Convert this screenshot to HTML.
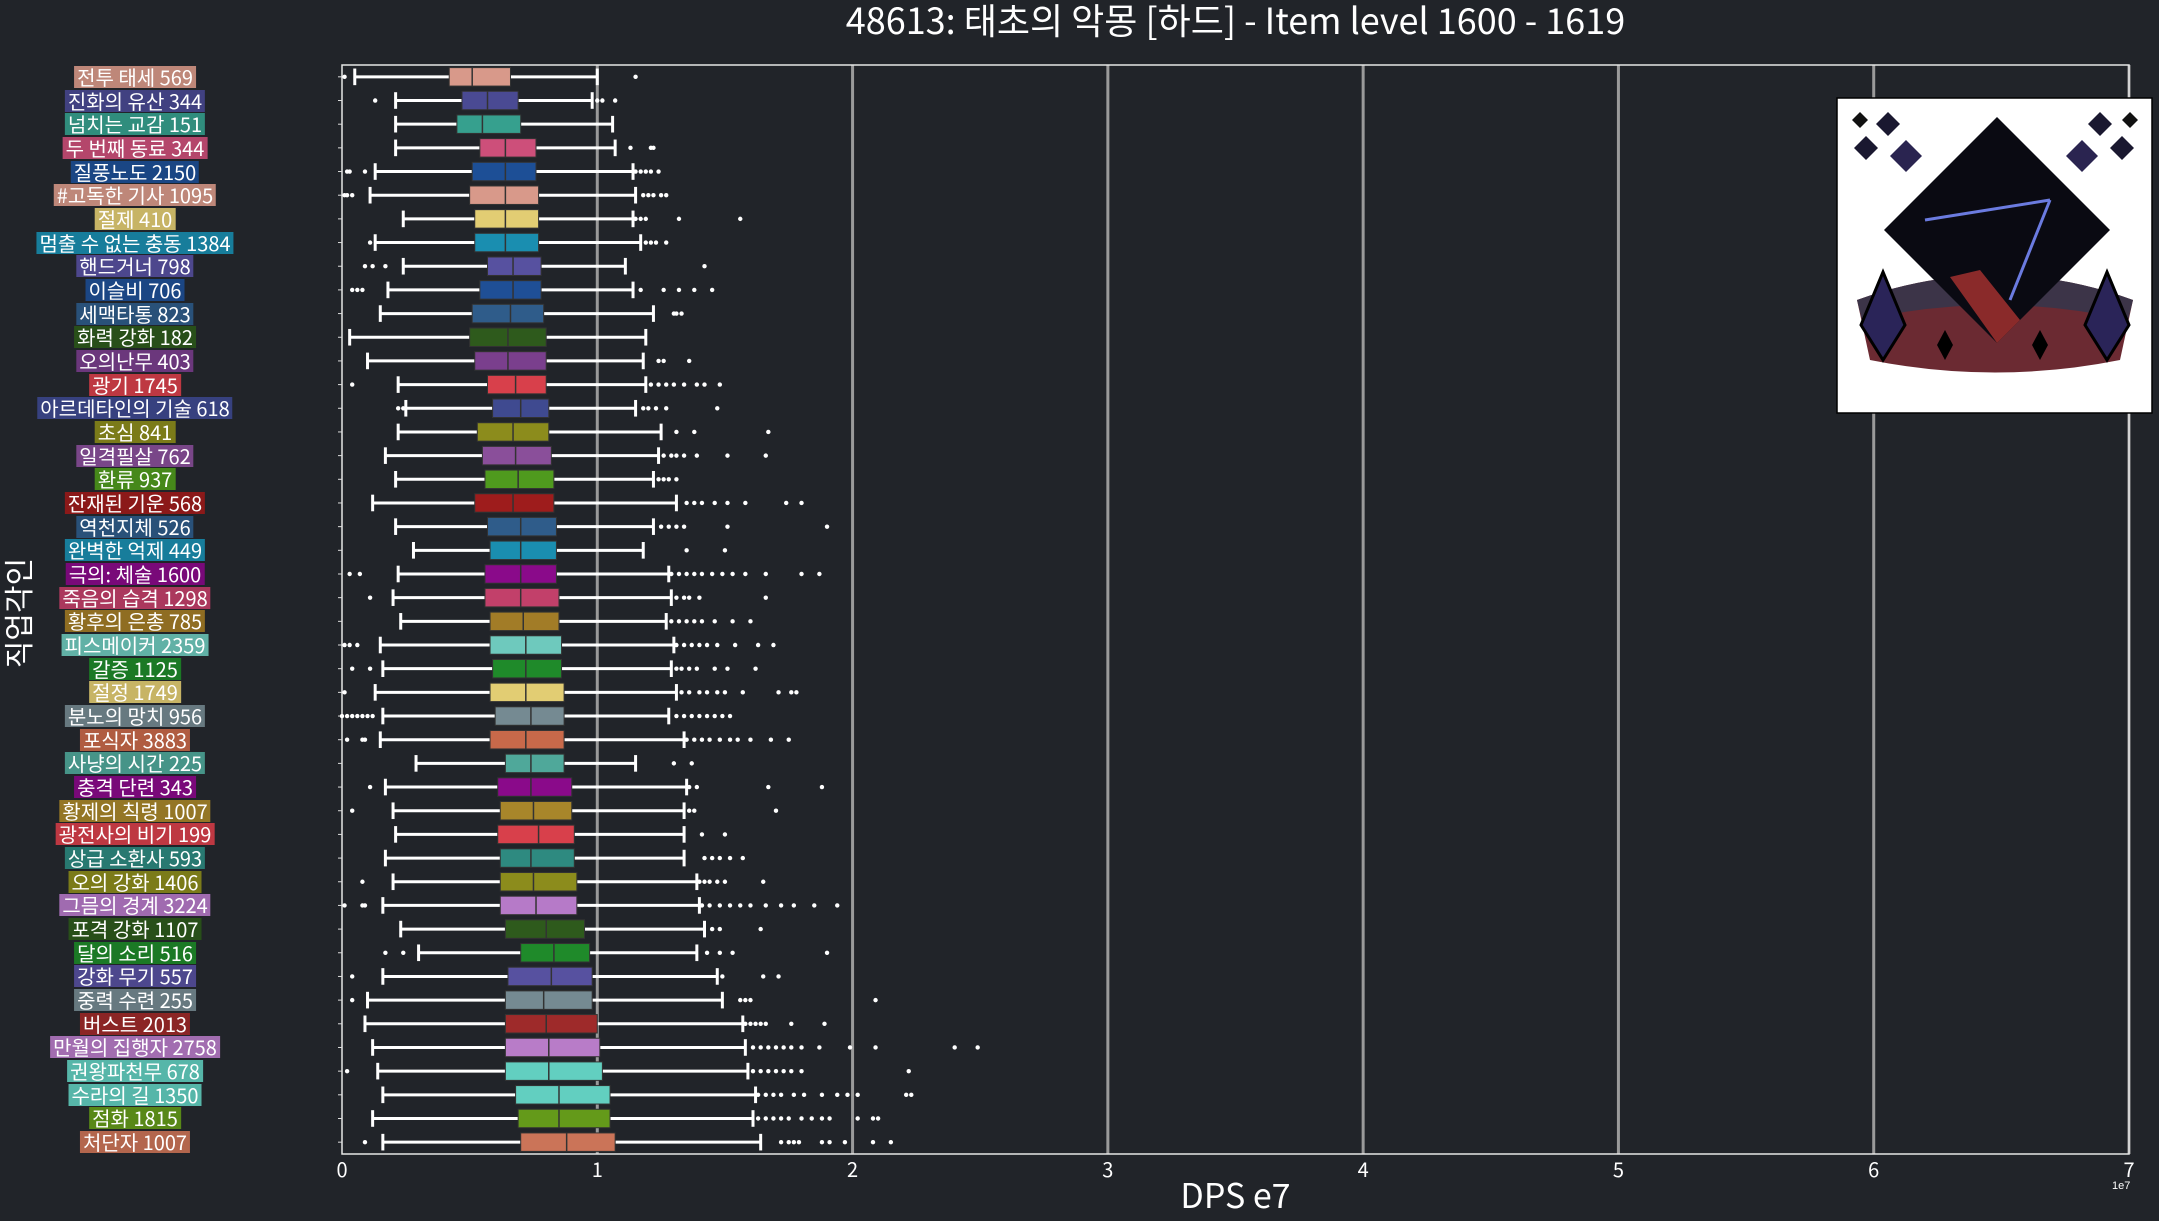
<!DOCTYPE html>
<html><head><meta charset="utf-8">
<style>
html,body{margin:0;padding:0;background:#212429;}
#wrap{position:relative;width:2159px;height:1221px;background:#212429;overflow:hidden;font-family:"Liberation Sans","Noto Sans CJK KR",sans-serif;}
.lab{position:absolute;color:#fff;font-size:20px;line-height:22px;padding:0 3px;white-space:nowrap;transform:translate(-50%,-50%);font-family:"Noto Sans CJK KR","Liberation Sans",sans-serif;}
</style></head>
<body>
<div id="wrap">
<svg id="svg" width="2159" height="1221" style="position:absolute;left:0;top:0"></svg>
</div>
<script>
const categories=["전투 태세 569","진화의 유산 344","넘치는 교감 151","두 번째 동료 344","질풍노도 2150","#고독한 기사 1095","절제 410","멈출 수 없는 충동 1384","핸드거너 798","이슬비 706","세맥타통 823","화력 강화 182","오의난무 403","광기 1745","아르데타인의 기술 618","초심 841","일격필살 762","환류 937","잔재된 기운 568","역천지체 526","완벽한 억제 449","극의: 체술 1600","죽음의 습격 1298","황후의 은총 785","피스메이커 2359","갈증 1125","절정 1749","분노의 망치 956","포식자 3883","사냥의 시간 225","충격 단련 343","황제의 칙령 1007","광전사의 비기 199","상급 소환사 593","오의 강화 1406","그믐의 경계 3224","포격 강화 1107","달의 소리 516","강화 무기 557","중력 수련 255","버스트 2013","만월의 집행자 2758","권왕파천무 678","수라의 길 1350","점화 1815","처단자 1007"];
const whiskerLow=[0.05,0.21,0.21,0.21,0.13,0.11,0.24,0.13,0.24,0.18,0.15,0.03,0.10,0.22,0.25,0.22,0.17,0.21,0.12,0.21,0.28,0.22,0.20,0.23,0.15,0.16,0.13,0.16,0.15,0.29,0.17,0.20,0.21,0.17,0.20,0.16,0.23,0.30,0.16,0.10,0.09,0.12,0.14,0.16,0.12,0.16];
const q1=[0.42,0.47,0.45,0.54,0.51,0.50,0.52,0.52,0.57,0.54,0.51,0.50,0.52,0.57,0.59,0.53,0.55,0.56,0.52,0.57,0.58,0.56,0.56,0.58,0.58,0.59,0.58,0.60,0.58,0.64,0.61,0.62,0.61,0.62,0.62,0.62,0.64,0.70,0.65,0.64,0.64,0.64,0.64,0.68,0.69,0.70];
const medians=[0.51,0.57,0.55,0.64,0.64,0.64,0.64,0.64,0.67,0.67,0.66,0.65,0.65,0.68,0.70,0.67,0.68,0.69,0.67,0.70,0.70,0.70,0.70,0.71,0.72,0.72,0.72,0.74,0.72,0.74,0.74,0.75,0.77,0.74,0.75,0.76,0.80,0.83,0.82,0.79,0.80,0.81,0.81,0.85,0.85,0.88];
const q3=[0.66,0.69,0.70,0.76,0.76,0.77,0.77,0.77,0.78,0.78,0.79,0.80,0.80,0.80,0.81,0.81,0.82,0.83,0.83,0.84,0.84,0.84,0.85,0.85,0.86,0.86,0.87,0.87,0.87,0.87,0.90,0.90,0.91,0.91,0.92,0.92,0.95,0.97,0.98,0.98,1.00,1.01,1.02,1.05,1.05,1.07];
const whiskerHigh=[1.00,0.98,1.06,1.07,1.14,1.15,1.14,1.17,1.11,1.14,1.22,1.19,1.18,1.19,1.15,1.25,1.24,1.22,1.31,1.22,1.18,1.28,1.29,1.27,1.30,1.29,1.31,1.28,1.34,1.15,1.35,1.34,1.34,1.34,1.39,1.40,1.42,1.39,1.47,1.49,1.57,1.58,1.59,1.62,1.61,1.64];
const outliers=[[0.01,1.15],[0.13,1.00,1.02,1.07],[],[1.13,1.21,1.22],[0.02,0.03,0.09,1.15,1.17,1.19,1.21,1.24],[0.01,0.02,0.04,1.18,1.20,1.22,1.25,1.27],[1.15,1.17,1.19,1.32,1.56],[0.11,1.19,1.21,1.23,1.27],[0.09,0.12,0.17,1.42],[0.04,0.06,0.08,1.17,1.26,1.32,1.38,1.45],[1.30,1.31,1.33],[],[1.24,1.26,1.36],[0.04,1.21,1.24,1.27,1.30,1.34,1.39,1.42,1.48],[0.22,0.24,1.18,1.20,1.23,1.27,1.47],[1.31,1.38,1.67],[1.26,1.29,1.31,1.34,1.39,1.51,1.66],[1.24,1.26,1.28,1.31],[1.35,1.38,1.41,1.46,1.51,1.58,1.74,1.80],[1.25,1.28,1.31,1.34,1.51,1.90],[1.35,1.50],[0.03,0.07,1.29,1.32,1.35,1.38,1.41,1.45,1.49,1.53,1.58,1.66,1.80,1.87],[0.11,1.31,1.34,1.36,1.40,1.66],[1.29,1.32,1.35,1.38,1.41,1.46,1.53,1.60],[0.01,0.03,0.06,1.31,1.34,1.37,1.40,1.43,1.47,1.54,1.63,1.69],[0.04,0.11,1.31,1.33,1.36,1.39,1.46,1.51,1.62],[0.01,1.33,1.36,1.40,1.43,1.47,1.50,1.57,1.71,1.76,1.78],[0.0,0.02,0.04,0.06,0.08,0.1,0.12,1.31,1.34,1.37,1.40,1.43,1.46,1.49,1.52],[0.02,0.08,0.09,1.35,1.38,1.41,1.44,1.48,1.52,1.55,1.60,1.68,1.75],[1.30,1.37],[0.11,1.36,1.39,1.67,1.88],[0.04,1.36,1.38,1.70],[1.41,1.50],[1.42,1.45,1.48,1.52,1.57],[0.08,1.40,1.42,1.44,1.47,1.50,1.65],[0.01,0.08,0.09,1.41,1.44,1.48,1.52,1.56,1.60,1.66,1.72,1.77,1.85,1.94],[1.45,1.48,1.64],[0.17,0.24,1.43,1.48,1.53,1.90],[0.04,1.49,1.65,1.71],[0.04,1.56,1.58,1.60,2.09],[1.58,1.60,1.62,1.64,1.66,1.76,1.89],[1.61,1.64,1.67,1.70,1.73,1.76,1.80,1.87,1.99,2.09,2.40,2.49],[0.02,1.61,1.64,1.67,1.70,1.73,1.76,1.80,2.22],[1.63,1.66,1.69,1.72,1.77,1.81,1.88,1.94,1.98,2.02,2.21,2.23],[1.63,1.66,1.69,1.72,1.75,1.80,1.84,1.88,1.91,2.02,2.08,2.10],[0.09,1.72,1.75,1.77,1.79,1.88,1.91,1.97,2.08,2.15]];
const colors=["#d8998a","#4a4a93","#36a08e","#cd4f7a","#1d4f96","#d8998a","#e2cd73","#1a8eb0","#5751a0","#1f4f96","#2f5c8a","#2e5a1c","#7a3f8d","#d8404b","#3f4a90","#8c8c1c","#8a4f9a","#4f9a1e","#9e1c1c","#2f5c8a","#1a8eb0","#8a0a8a","#c2406a","#a27c27","#6ec9bd","#1f8a2a","#e2cd73","#758a92","#c8694a","#4fa89a","#8a0a8a","#a8862a","#d8404b","#2e8a80","#8c8c1c","#b67ac8","#2e5a1c","#1f8a2a","#5751a0","#758a92","#9e2a2a","#b87cc8","#62cfc0","#62cfc0","#649a1a","#cb7458"];
const xTicks=[0,1,2,3,4,5,6,7];

const L=342,R=2129,T=65,B=1154,XMAX=7;
const NS="http://www.w3.org/2000/svg";
const svg=document.getElementById('svg');
const wrap=document.getElementById('wrap');
function xs(v){return L+v/XMAX*(R-L);}
const band=(B-T)/categories.length;
function yc(i){return T+(i+0.5)*band;}
function mk(tag,attrs){const e=document.createElementNS(NS,tag);for(const k in attrs)e.setAttribute(k,attrs[k]);svg.appendChild(e);return e;}
function darken(h,f){const n=parseInt(h.slice(1),16);const r=Math.round(((n>>16)&255)*f),g=Math.round(((n>>8)&255)*f),b=Math.round((n&255)*f);return `rgb(${r},${g},${b})`;}

let t=mk('text',{x:(L+R)/2,y:34,fill:'#fff','font-size':36,'text-anchor':'middle','font-family':'"Noto Sans CJK KR","Liberation Sans",sans-serif'});
t.textContent='48613: 태초의 악몽 [하드] - Item level 1600 - 1619';



xTicks.forEach(v=>{
  if(v>0){const g=mk('line',{x1:xs(v),x2:xs(v),y1:T,y2:B,stroke:'#9a9a9a','stroke-width':3});
  
  }
  const tl=mk('text',{x:xs(v),y:1177,fill:'#fff','font-size':20,'text-anchor':'middle','font-family':'"Noto Sans CJK KR","Liberation Sans",sans-serif'});
  tl.textContent=v;
  
  
});
const fr=mk('rect',{x:L,y:T,width:R-L,height:B-T,fill:'none',stroke:'#e6e6e6','stroke-width':1.5});



const bh=band*0.78;
categories.forEach((c,i)=>{
  const y=yc(i);
  const tk=mk('line',{x1:L-4,x2:L,y1:y,y2:y,stroke:'#ddd','stroke-width':1});
  
  
  const w1=mk('line',{x1:xs(whiskerLow[i]),x2:xs(q1[i]),y1:y,y2:y,stroke:'#fff','stroke-width':3});
  
  
  const w2=mk('line',{x1:xs(q3[i]),x2:xs(whiskerHigh[i]),y1:y,y2:y,stroke:'#fff','stroke-width':3});
  
  
  [whiskerLow[i],whiskerHigh[i]].forEach(v=>{
    const cp=mk('line',{x1:xs(v),x2:xs(v),y1:y-bh*0.45,y2:y+bh*0.45,stroke:'#fff','stroke-width':3});
    
    
  });
  const bx=mk('rect',{x:xs(q1[i]),y:y-bh/2,width:xs(q3[i])-xs(q1[i]),height:bh,fill:colors[i],stroke:'#333','stroke-width':1});
  
  
  const md=mk('line',{x1:xs(medians[i]),x2:xs(medians[i]),y1:y-bh/2,y2:y+bh/2,stroke:'#333','stroke-width':1.5});
  
  
  outliers[i].forEach(v=>{
    const o=mk('circle',{cx:xs(v),cy:y,r:2.2,fill:'#fff'});
    
    
  });
  const lb=document.createElement('div');
  lb.className='lab';
  lb.style.left='135px';lb.style.top=y+'px';
  lb.style.background=darken(colors[i],0.88);
  lb.textContent=c;
  
  
  wrap.appendChild(lb);
});

let xl=mk('text',{x:(L+R)/2,y:1208,fill:'#fff','font-size':34,'text-anchor':'middle','font-family':'"Noto Sans CJK KR","Liberation Sans",sans-serif'});
xl.textContent='DPS e7';


let ex=mk('text',{x:2112,y:1189,fill:'#fff','font-size':11,'font-family':'"Liberation Sans",sans-serif'});
ex.textContent='1e7';


let yl=mk('text',{x:30,y:613,fill:'#fff','font-size':30,'text-anchor':'middle',transform:'rotate(-90 30 613)','font-family':'"Noto Sans CJK KR","Liberation Sans",sans-serif'});
yl.textContent='직업각인';



const g=document.createElementNS(NS,'g');


g.innerHTML=`<rect x="1837" y="98" width="315" height="315" fill="#fff" stroke="#000" stroke-width="1.5"/>
<path d="M1857,300 Q1995,250 2133,300 L2120,360 Q1995,385 1870,360 Z" fill="#6b2a32"/>
<path d="M1857,300 Q1995,250 2133,300 L2128,320 Q1995,290 1862,320 Z" fill="#3c3448"/>
<polygon points="1997,117 2110,230 1997,343 1884,230" fill="#0a0a12"/>
<polygon points="1950,277 1997,343 2020,320 1980,270" fill="#8a2a2a"/>
<line x1="1925" y1="220" x2="2050" y2="200" stroke="#6b7be0" stroke-width="3"/>
<line x1="2050" y1="200" x2="2010" y2="300" stroke="#6b7be0" stroke-width="3"/>
<polygon points="1860,112 1868,120 1860,128 1852,120" fill="#111"/>
<polygon points="1888,112 1900,124 1888,136 1876,124" fill="#1a1830"/>
<polygon points="1866,136 1878,148 1866,160 1854,148" fill="#1a1830"/>
<polygon points="1906,140 1922,156 1906,172 1890,156" fill="#2a2450"/>
<polygon points="2130,112 2138,120 2130,128 2122,120" fill="#111"/>
<polygon points="2100,112 2112,124 2100,136 2088,124" fill="#1a1830"/>
<polygon points="2122,136 2134,148 2122,160 2110,148" fill="#1a1830"/>
<polygon points="2082,140 2098,156 2082,172 2066,156" fill="#2a2450"/>
<polygon points="1883,272 1905,325 1883,360 1861,325" fill="#2a2458" stroke="#000" stroke-width="3"/>
<polygon points="2107,272 2129,325 2107,360 2085,325" fill="#2a2458" stroke="#000" stroke-width="3"/>
<polygon points="1945,330 1953,345 1945,360 1937,345" fill="#000"/>
<polygon points="2040,330 2048,345 2040,360 2032,345" fill="#000"/>`;
svg.appendChild(g);
</script>
</body></html>
